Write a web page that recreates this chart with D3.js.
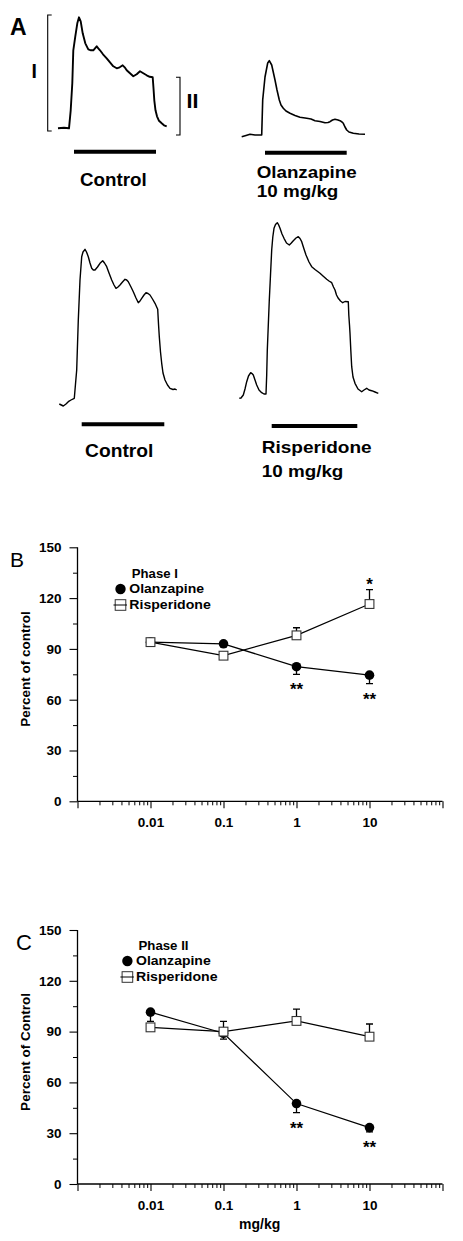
<!DOCTYPE html>
<html><head><meta charset="utf-8">
<script src="https://cdn.jsdelivr.net/npm/d3@7"></script>
<style>
body{margin:0;background:#fff}
svg{display:block}
text{font-family:Arial,"Liberation Sans",sans-serif;fill:#000}
</style>
</head><body>
<svg id="c" width="463" height="1241"></svg>
<script>
// ---------- DATA ----------
// Panel A: example responses, [time (ms-units), amplitude (a.u.)]
const traceControlTop = [[0,0],[6,0.5],[11,0],[12.7,18],[14.3,45],[15.3,78],[17.3,92],[19.3,105],[21,111],[22.7,107],[24.7,95],[27.3,85],[30.3,79],[33,78],[35.3,78],[37,80],[38.7,82],[40.3,80],[42,78],[45,74],[48.7,70],[52,66],[55.3,62],[58.7,60],[61.7,61],[64.7,63],[66.7,61],[68.7,58],[72,55],[75.3,52],[78.7,54],[82,57],[85.3,55],[88.7,53],[91.7,51.5],[94.7,51],[95.5,40],[96.3,28],[97.5,18],[99,12],[101,7.5],[103.7,5],[106,3],[108.7,2]];
const traceOlanzapine = [[0.7,-1.7],[5,-0.5],[9,0.7],[14,0],[20.7,0],[21.7,35],[24,58],[26.7,72],[28.3,74.3],[30.7,70],[34,55],[36,45],[38.3,35],[40,30],[42.3,26.7],[45,24],[49,21.7],[54,19.5],[59,17.7],[65.7,16.7],[70,16],[74,14.3],[79,13.5],[84,12.3],[87,12.5],[89,13.3],[91.5,15],[94,15.7],[97,15],[99,14.3],[101,13],[102.3,11.7],[104,8],[105.7,5],[108,3],[112.3,1.7],[118,1],[124,0.7]];
const traceControlBottom = [[0.3,0],[4.3,-2],[7,0],[9.3,2.3],[12,4],[15.3,5.7],[16.5,20],[17.7,34],[19.3,84],[21,124],[22.7,147.3],[24,152],[26,154.7],[27.5,152],[29.3,147.3],[31,141],[32.7,135.7],[34.3,134],[36,134],[38.5,137],[41,140.7],[43.7,143.3],[45.5,141],[47.7,137.3],[50,131],[52.7,124],[55,119],[57,115.7],[59,117],[61,119],[63.5,122],[66,124.7],[67.7,124],[69.3,122.3],[72,117],[74.3,112.3],[77,106],[79.3,101.3],[81,103],[82.7,105.7],[85,109],[87,111.3],[89,110.5],[91,109],[93.5,105],[96,100.7],[98.7,94.7],[99.5,80],[100.3,67.3],[101.5,52],[102.7,40.7],[104,31],[106,24],[108.5,19],[111,15.7],[114,14.5],[116,15],[117.7,14]];
const traceRisperidone = [[0.3,-3.3],[2,-3],[4.3,0],[6,6],[7.7,13.3],[9.5,19],[11.7,22.3],[13,21.5],[14.3,20],[16,15],[17.7,10],[20,5],[22.7,2.3],[25,1],[27,1],[27.7,20],[28.3,45],[29.3,70],[30.3,95],[31.5,120],[32.7,145],[33.8,158],[35,166.7],[36.5,170.5],[38.3,172.3],[39.7,170],[41,166.7],[43,161],[45,156.7],[47.5,152],[50.3,150],[52.3,152],[54.3,154.3],[57,157],[59.3,158.3],[61,156.5],[62.7,153.3],[65,146],[67,140],[70,133],[72.7,128.3],[76,125.5],[81,121.7],[84,119],[87.7,115.7],[90,114],[92.7,112.3],[94.5,108],[96,105],[97.5,100],[99.3,96.7],[101.5,94],[103.7,92.3],[106,93.5],[109.3,93.3],[109.8,80],[110.5,70],[111,61.7],[111.8,45],[112.7,28.3],[114,18],[116,11.7],[119,6],[122.7,3.3],[125,5],[127.7,6.7],[130,5],[132.7,4.3],[136,3],[139.3,1.7]];
// stimulus periods [on, off] per trace
const stimControlTop = [16, 98];
const stimOlanzapine = [24, 105.7];
const stimControlBottom = [22.7, 105.3];
const stimRisperidone = [32.7, 118.3];
// phase brackets [time, ampLow, ampHigh]
const bracketPhaseI = [-10.3, -2.7, 113.3];
const bracketPhaseII = [122, -6.7, 51];

// Panels B and C: dose-response
const doses = [0.01, 0.1, 1, 10];
const olzPhaseI = [94, 93, 79.5, 74.5];
const olzPhaseISem = [0, 1, 4.5, 5];
const olzPhaseIStars = ["", "", "**", "**"];
const rspPhaseI = [94, 86, 98, 116.5];
const rspPhaseISem = [0, 1, 4.5, 8.5];
const rspPhaseIStars = ["", "", "", "*"];
const olzPhaseII = [101.5, 89, 47.5, 33.3];
const olzPhaseIISem = [5.5, 3.5, 5.3, 2.5];
const olzPhaseIIStars = ["", "", "**", "**"];
const rspPhaseII = [92.5, 90, 96.3, 87];
const rspPhaseIISem = [1, 6, 7, 7.5];
const rspPhaseIIStars = ["", "", "", ""];
const yTicks = [0, 30, 60, 90, 120, 150];
const yMinorTicks = [15, 45, 75, 105, 135];
const xMajorTicks = [0.001, 0.01, 0.1, 1, 10, 100];
const xTickLabels = ["0.01", "0.1", "1", "10"];

// ---------- DRAW ----------
const svg = d3.select("#c");
const FONT = 'Arial, "Liberation Sans", sans-serif';

// Panel A
function drawTrace(data, stim, layout) {
  const x = d3.scaleLinear().domain([0, 100]).range([layout.x0, layout.x0 + 100]);
  const y = d3.scaleLinear().domain([0, 100]).range([layout.base, layout.base - 100]);
  svg.append("path").datum(data)
    .attr("d", d3.line().x(d => x(d[0])).y(d => y(d[1])))
    .attr("fill", "none").attr("stroke", "#000").attr("stroke-width", layout.lw)
    .attr("stroke-linejoin", "round");
  svg.append("line").attr("x1", x(stim[0])).attr("x2", x(stim[1]))
    .attr("y1", layout.barY).attr("y2", layout.barY)
    .attr("stroke", "#000").attr("stroke-width", 4);
  return {x, y};
}
function drawBracket(sc, b, dir) {
  const xv = sc.x(b[0]), y1 = sc.y(b[1]), y2 = sc.y(b[2]);
  svg.append("path")
    .attr("d", `M${xv + dir * 4},${y1}H${xv}V${y2}H${xv + dir * 4}`)
    .attr("fill", "none").attr("stroke", "#000").attr("stroke-width", 1.1);
}

const sTL = drawTrace(traceControlTop, stimControlTop, {x0: 58, base: 128.3, barY: 151.7, lw: 1.9});
drawBracket(sTL, bracketPhaseI, 1);
drawBracket(sTL, bracketPhaseII, -1);
drawTrace(traceOlanzapine, stimOlanzapine, {x0: 241, base: 135, barY: 152.7, lw: 1.6});
drawTrace(traceControlBottom, stimControlBottom, {x0: 59, base: 404, barY: 424.3, lw: 1.4});
drawTrace(traceRisperidone, stimRisperidone, {x0: 239, base: 395, barY: 426, lw: 1.4});

function txt(s, x, y, size, weight, anchor, len) {
  const t = svg.append("text").attr("x", x).attr("y", y).text(s)
    .style("font-size", size + "px").style("font-weight", weight)
    .attr("text-anchor", anchor || "start");
  if (len) t.attr("textLength", len).attr("lengthAdjust", "spacingAndGlyphs");
  return t;
}
txt("A", 10, 35, 23, "bold");
txt("I", 31.5, 78.3, 19.5, "bold");
txt("II", 186.5, 108.3, 19.5, "bold", "start", 12);
txt("Control", 113.3, 185.5, 18, "bold", "middle", 66.7);
txt("Olanzapine", 256.7, 177.5, 16, "bold", "start", 100);
txt("10 mg/kg", 256.7, 196.5, 16, "bold", "start", 81.7);
txt("Control", 119.2, 456.7, 18, "bold", "middle", 68.3);
txt("Risperidone", 261.7, 452.7, 16.5, "bold", "start", 110);
txt("10 mg/kg", 261.7, 476.7, 16.5, "bold", "start", 81.7);

// Panels B, C
function drawDose(cfg) {
  const g = svg.append("g");
  const x = d3.scaleLog().domain([0.001, 100]).range([77.5, 442.5]);
  const y = d3.scaleLinear().domain([0, 150]).range([cfg.y0, cfg.y0 - 254]);

  // y axis
  const ya = g.append("g").attr("transform", "translate(77.5,0)")
    .call(d3.axisLeft(y).tickValues(yTicks).tickSize(8).tickPadding(8).tickFormat(d3.format("d")));
  ya.selectAll(".tick line").attr("stroke-width", 1.1);
  ya.select(".domain").attr("d", `M0,${y(0)}V${y(150)}`).attr("stroke-width", 1.3);
  ya.selectAll("text").style("font-size", "13.5px").style("font-weight", "bold").attr("font-family", FONT);
  g.append("g").attr("transform", "translate(77.5,0)")
    .call(d3.axisLeft(y).tickValues(yMinorTicks).tickSize(4.5).tickFormat(""))
    .select(".domain").remove();

  // x axis
  const xa = g.append("g").attr("transform", `translate(0,${y(0)})`)
    .call(d3.axisBottom(x).tickValues(xMajorTicks).tickSize(7).tickPadding(9)
      .tickFormat(d => { const i = doses.indexOf(d); return i >= 0 ? xTickLabels[i] : ""; }));
  xa.selectAll(".tick line").attr("stroke-width", 1.1);
  xa.select(".domain").attr("d", `M${x(0.001)},0H${x(100)}`).attr("stroke-width", 1.3);
  xa.selectAll("text").style("font-size", "13.5px").style("font-weight", "bold").attr("font-family", FONT);
  const minors = [];
  [0.001, 0.01, 0.1, 1, 10].forEach(dec => { for (let k = 2; k <= 9; k++) minors.push(dec * k); });
  g.append("g").attr("transform", `translate(0,${y(0)})`)
    .call(d3.axisBottom(x).tickValues(minors).tickSize(4).tickFormat(""))
    .select(".domain").remove();

  // axis titles
  g.append("text").attr("transform", `translate(${cfg.ylabX},${cfg.ylabY}) rotate(-90)`)
    .attr("text-anchor", "middle").style("font-size", "13.5px").style("font-weight", "bold")
    .text(cfg.ylabel);
  if (cfg.xlabel) g.append("text").attr("x", 259.7).attr("y", y(0) + 45)
    .attr("text-anchor", "middle").style("font-size", "14px").style("font-weight", "bold").text(cfg.xlabel);

  g.append("text").attr("x", cfg.letterX).attr("y", cfg.letterY).style("font-size", cfg.letterSize + "px").text(cfg.letter);

  const line = d3.line().x(d => x(d.dose)).y(d => y(d.v));
  const mk = (vals, sem, stars, dir) => doses.map((d, i) => ({dose: d, v: vals[i], sem: sem[i], star: stars[i], dir}));
  const olz = mk(cfg.olz, cfg.olzSem, cfg.olzStars, -1);
  const rsp = mk(cfg.rsp, cfg.rspSem, cfg.rspStars, 1);

  [olz, rsp].forEach(s => {
    g.append("path").datum(s).attr("d", line).attr("fill", "none").attr("stroke", "#000").attr("stroke-width", 1.2);
  });
  // error bars
  [olz, rsp].forEach(s => {
    s.filter(d => d.sem > 0).forEach(d => {
      const ye = y(d.v + d.dir * d.sem), xc = x(d.dose);
      g.append("path").attr("d", `M${xc},${y(d.v)}V${ye}M${xc - 3.5},${ye}H${xc + 3.5}`)
        .attr("stroke", "#000").attr("stroke-width", 1.3).attr("fill", "none");
    });
  });
  // olanzapine circles
  g.selectAll(".olz").data(olz).join("circle").attr("cx", d => x(d.dose)).attr("cy", d => y(d.v))
    .attr("r", 4.8).attr("fill", "#000");
  // risperidone squares
  g.selectAll(".rsp").data(rsp).join("rect").attr("x", d => x(d.dose) - 4.4).attr("y", d => y(d.v) - 4.4)
    .attr("width", 8.8).attr("height", 8.8).attr("fill", "#fff").attr("stroke", "#333").attr("stroke-width", 1.1);
  // significance
  [olz, rsp].forEach(s => s.filter(d => d.star).forEach(d => {
    const ye = y(d.v + d.dir * d.sem);
    g.append("text").attr("x", x(d.dose)).attr("y", d.dir < 0 ? ye + 21 : ye)
      .attr("text-anchor", "middle").style("font-size", "17px").style("font-weight", "bold").text(d.star);
  }));

  // legend
  const L = cfg.leg;
  g.append("text").attr("x", L.tx + 2.5).attr("y", L.y0).style("font-size", "13.5px").style("font-weight", "bold")
    .attr("textLength", L.w0).attr("lengthAdjust", "spacingAndGlyphs").text(cfg.phase);
  g.append("circle").attr("cx", L.mx).attr("cy", L.y1 - 4).attr("r", 5.2).attr("fill", "#000");
  g.append("text").attr("x", L.tx).attr("y", L.y1).style("font-size", "13.5px").style("font-weight", "bold")
    .attr("textLength", 74.7).attr("lengthAdjust", "spacingAndGlyphs").text("Olanzapine");
  g.append("rect").attr("x", L.mx - 5.3).attr("y", L.y2 - 9.3).attr("width", 10.6).attr("height", 10.6)
    .attr("fill", "#fff").attr("stroke", "#333").attr("stroke-width", 1);
  g.append("line").attr("x1", L.mx - 7).attr("x2", L.mx + 6.5).attr("y1", L.y2 - 4).attr("y2", L.y2 - 4)
    .attr("stroke", "#000").attr("stroke-width", 1);
  g.append("text").attr("x", L.tx).attr("y", L.y2).style("font-size", "13.5px").style("font-weight", "bold")
    .attr("textLength", 81.5).attr("lengthAdjust", "spacingAndGlyphs").text("Risperidone");
}

drawDose({
  y0: 801.3, letter: "B", letterX: 10, letterY: 567, letterSize: 21,
  ylabel: "Percent of control", ylabX: 30, ylabY: 669,
  olz: olzPhaseI, olzSem: olzPhaseISem, olzStars: olzPhaseIStars,
  rsp: rspPhaseI, rspSem: rspPhaseISem, rspStars: rspPhaseIStars,
  phase: "Phase I", leg: {mx: 120.5, tx: 129.3, y0: 578, y1: 593, y2: 609, w0: 46}
});
drawDose({
  y0: 1184, letter: "C", letterX: 16, letterY: 950, letterSize: 22,
  ylabel: "Percent of Control", ylabX: 30, ylabY: 1052, xlabel: "mg/kg",
  olz: olzPhaseII, olzSem: olzPhaseIISem, olzStars: olzPhaseIIStars,
  rsp: rspPhaseII, rspSem: rspPhaseIISem, rspStars: rspPhaseIIStars,
  phase: "Phase II", leg: {mx: 127.4, tx: 136, y0: 949.5, y1: 965, y2: 981, w0: 50}
});
</script>
</body></html>
